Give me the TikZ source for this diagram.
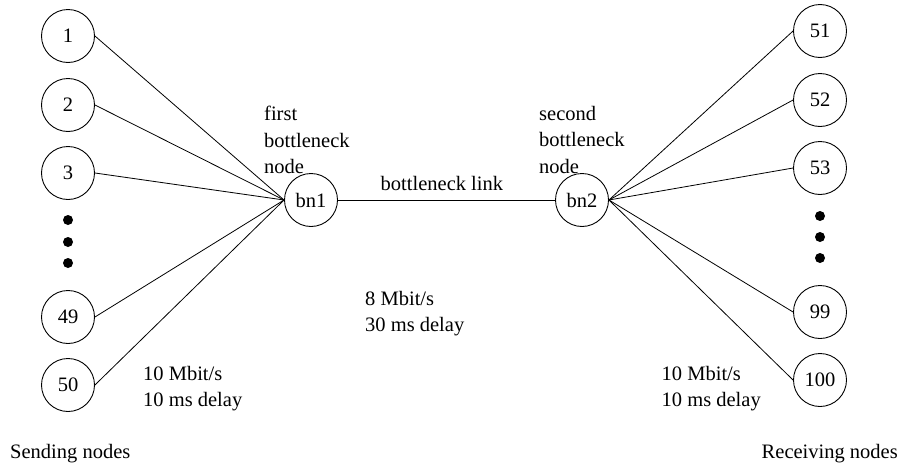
\documentclass[tikz,border=0pt]{standalone}
\usepackage{fontspec}
\setmainfont{Liberation Serif}
\begin{document}
\begin{tikzpicture}[x=1pt,y=-1pt,
  every node/.style={font=\fontsize{20.5}{26.5}\selectfont},
  host/.style={circle,draw,line width=0.9pt,minimum size=53pt,inner sep=0pt},
  link/.style={line width=0.8pt},
  lbl/.style={anchor=north west,inner sep=0pt,align=left},
  dot/.style={fill=black}]
\useasboundingbox (0,0) rectangle (903,466);
% sending nodes
\node[host] (n1) at (68,36) {1};
\node[host] (n2) at (68,105) {2};
\node[host] (n3) at (68,173) {3};
\node[host] (n49) at (68,317) {49};
\node[host] (n50) at (68,385) {50};
% bottleneck nodes
\node[host] (bn1) at (311,200) {bn1};
\node[host] (bn2) at (582,200) {bn2};
% receiving nodes
\node[host] (n51) at (820,31) {51};
\node[host] (n52) at (820,100) {52};
\node[host] (n53) at (820,168) {53};
\node[host] (n99) at (820,312) {99};
\node[host] (n100) at (820,380) {100};
% dots
\foreach \y in {220,242,263} \fill[dot] (68,\y) circle (5);
\foreach \y in {216,237,258} \fill[dot] (820,\y) circle (5);
% connectors
\foreach \n in {n1,n2,n3,n49,n50} \draw[link] (\n.east) -- (bn1.west);
\foreach \n in {n51,n52,n53,n99,n100} \draw[link] (bn2.east) -- (\n.west);
\draw[link] (bn1) -- (bn2);
% labels
\node[lbl] (t1) at (264,106) {first\\bottleneck\\node};
\node[lbl] (t2) at (539,106) {second\\bottleneck\\node};
\node[anchor=base west,inner sep=0pt] (t3) at (380.5,190) {bottleneck link};
\node[lbl] (t4) at (365,291) {8 Mbit/s\\30 ms delay};
\node[lbl] (t5) at (143,366) {10 Mbit/s\\10 ms delay};
\node[lbl] (t6) at (661.5,366) {10 Mbit/s\\10 ms delay};
\node[anchor=base west,inner sep=0pt] (t7) at (10,458) {Sending nodes};
\node[anchor=base east,inner sep=0pt] (t8) at (898,458) {Receiving nodes};
\end{tikzpicture}
\end{document}
